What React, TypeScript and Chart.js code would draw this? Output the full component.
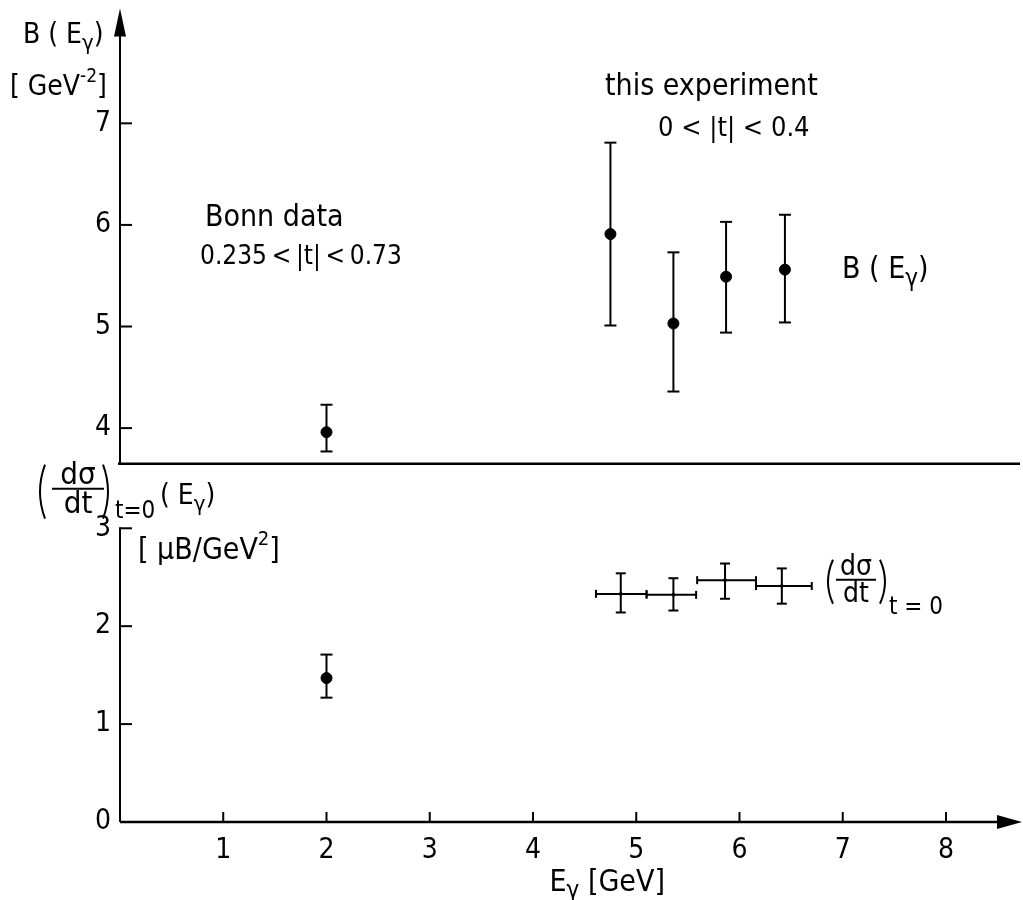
import React, { useEffect, useRef } from 'react';
import { Chart, registerables } from 'chart.js';

Chart.register(...registerables);

const FONT = "'DejaVu Sans Condensed', 'Liberation Sans Narrow', 'DejaVu Sans', sans-serif";

// Tick values
const xTicks = [1, 2, 3, 4, 5, 6, 7, 8];
const topTicks = [4, 5, 6, 7];
const bottomTicks = [0, 1, 2, 3];

// Bonn data (E = 2 GeV)
const bonnE = [2.0];
const bonnB = [3.96];
const bonnBHi = [4.23];
const bonnBLo = [3.77];
const bonnD = [1.47];
const bonnDHi = [1.71];
const bonnDLo = [1.27];

// This experiment: slope B(E)
const expE = [4.75, 5.36, 5.87, 6.44];
const expB = [5.91, 5.03, 5.49, 5.56];
const expBHi = [6.81, 5.73, 6.03, 6.1];
const expBLo = [5.01, 4.36, 4.94, 5.04];

// This experiment: (dσ/dt) at t = 0
const expDE = [4.85, 5.36, 5.86, 6.41];
const expDEMin = [4.61, 5.1, 5.59, 6.16];
const expDEMax = [5.1, 5.58, 6.16, 6.7];
const expD = [2.33, 2.32, 2.47, 2.41];
const expDHi = [2.54, 2.49, 2.64, 2.59];
const expDLo = [2.14, 2.16, 2.28, 2.23];

type Run = { t: string; size: number; dy?: number };

function drawRuns(ctx: CanvasRenderingContext2D, x: number, y: number, runs: Run[]) {
  let cx = x;
  for (const r of runs) {
    ctx.font = `${r.size}px ${FONT}`;
    ctx.fillText(r.t, cx, y + (r.dy ?? 0));
    cx += ctx.measureText(r.t).width;
  }
  return cx;
}

function drawParen(ctx: CanvasRenderingContext2D, x: number, top: number, bottom: number, left: boolean) {
  const mid = (top + bottom) / 2;
  ctx.beginPath();
  if (left) {
    ctx.moveTo(x + 5, top);
    ctx.quadraticCurveTo(x - 5, mid, x + 5, bottom);
  } else {
    ctx.moveTo(x - 5, top);
    ctx.quadraticCurveTo(x + 5, mid, x - 5, bottom);
  }
  ctx.stroke();
}

function drawFraction(ctx: CanvasRenderingContext2D, cx: number, lineY: number, w: number, size: number) {
  ctx.font = `${size}px ${FONT}`;
  ctx.textAlign = 'center';
  ctx.fillText('dσ', cx, lineY - 5);
  ctx.fillText('dt', cx, lineY + size * 0.8);
  ctx.textAlign = 'left';
  ctx.beginPath();
  ctx.moveTo(cx - w / 2, lineY);
  ctx.lineTo(cx + w / 2, lineY);
  ctx.stroke();
}

const figurePlugin = {
  id: 'figure',
  afterDraw(chart: any) {
    const ctx: CanvasRenderingContext2D = chart.ctx;
    const sx = chart.scales.x;
    const yT = chart.scales.yTop;
    const yB = chart.scales.yBot;
    const area = chart.chartArea;
    const W = chart.width;
    ctx.save();
    ctx.strokeStyle = '#000';
    ctx.fillStyle = '#000';
    ctx.lineWidth = 2;
    ctx.lineCap = 'butt';
    const line = (x1: number, y1: number, x2: number, y2: number) => {
      ctx.beginPath();
      ctx.moveTo(x1, y1);
      ctx.lineTo(x2, y2);
      ctx.stroke();
    };
    const X = (v: number) => sx.getPixelForValue(v);
    const YT = (v: number) => yT.getPixelForValue(v);
    const YB = (v: number) => yB.getPixelForValue(v);
    const x0 = X(0);

    // top panel axis with arrow
    const sepY = yT.bottom;
    line(x0, sepY, x0, area.top + 26);
    ctx.beginPath();
    ctx.moveTo(x0, area.top + 2);
    ctx.lineTo(x0 - 6, area.top + 30);
    ctx.lineTo(x0 + 6, area.top + 30);
    ctx.closePath();
    ctx.fill();
    topTicks.forEach((v) => line(x0, YT(v), x0 + 12, YT(v)));
    // separator
    ctx.lineWidth = 2.5;
    line(x0 - 2, sepY, W - 3, sepY);
    ctx.lineWidth = 2;

    // bottom panel axis
    const y0 = YB(0);
    line(x0, YB(3) - 1, x0, y0);
    bottomTicks.forEach((v) => { if (v > 0) line(x0, YB(v), x0 + 12, YB(v)); });
    // x axis with arrow
    ctx.lineWidth = 2.5;
    line(x0, y0, W - 20, y0);
    ctx.lineWidth = 2;
    ctx.beginPath();
    ctx.moveTo(W - 1, y0);
    ctx.lineTo(W - 26, y0 - 7);
    ctx.lineTo(W - 26, y0 + 7);
    ctx.closePath();
    ctx.fill();
    xTicks.forEach((v) => line(X(v), y0, X(v), y0 - 10));

    // error bars
    const vbar = (px: number, hi: number, lo: number, cap: number) => {
      line(px, hi, px, lo);
      line(px - cap, hi, px + cap, hi);
      line(px - cap, lo, px + cap, lo);
    };
    bonnE.forEach((e, i) => vbar(X(e), YT(bonnBHi[i]), YT(bonnBLo[i]), 6));
    expE.forEach((e, i) => vbar(X(e), YT(expBHi[i]), YT(expBLo[i]), 6));
    bonnE.forEach((e, i) => vbar(X(e), YB(bonnDHi[i]), YB(bonnDLo[i]), 6));
    expDE.forEach((e, i) => {
      vbar(X(e), YB(expDHi[i]), YB(expDLo[i]), 5);
      const py = YB(expD[i]);
      line(X(expDEMin[i]), py, X(expDEMax[i]), py);
      line(X(expDEMin[i]), py - 4, X(expDEMin[i]), py + 4);
      line(X(expDEMax[i]), py - 4, X(expDEMax[i]), py + 4);
    });

    // annotations
    ctx.textAlign = 'left';
    ctx.textBaseline = 'alphabetic';
    drawRuns(ctx, X(4.697), YT(7.275), [{ t: 'this experiment', size: 30 }]);
    drawRuns(ctx, X(5.211), YT(6.872), [{ t: '0 < |t| < 0.4', size: 27 }]);
    drawRuns(ctx, X(0.823), YT(5.987), [{ t: 'Bonn data', size: 30 }]);
    drawRuns(ctx, X(0.775), YT(5.614), [{ t: '0.235\u2009<\u2009|t|\u2009<\u20090.73', size: 26 }]);
    drawRuns(ctx, X(6.993), YT(5.476), [
      { t: 'B ( E', size: 30 },
      { t: 'γ', size: 24, dy: 8 },
      { t: ')', size: 30 },
    ]);

    // right (dσ/dt)t=0 label
    {
      const lx = X(6.828);
      const ly = YB(2.474);
      drawParen(ctx, lx + 3, ly - 20, ly + 24, true);
      drawFraction(ctx, lx + 31, ly, 40, 28);
      drawParen(ctx, lx + 60, ly - 20, ly + 24, false);
      drawRuns(ctx, lx + 64, ly + 34, [{ t: 't = 0', size: 24 }]);
    }

    // top-left axis title
    drawRuns(ctx, 23, 43, [
      { t: 'B ( E', size: 28 },
      { t: 'γ', size: 22, dy: 7 },
      { t: ')', size: 28 },
    ]);
    drawRuns(ctx, 10, 95, [
      { t: '[ GeV', size: 28 },
      { t: '-2', size: 19, dy: -13 },
      { t: ']', size: 28 },
    ]);

    // bottom-left axis title
    {
      const lineY = sepY + 25;
      drawParen(ctx, 40, lineY - 24, lineY + 30, true);
      drawFraction(ctx, 78, lineY, 52, 31);
      drawParen(ctx, 108, lineY - 24, lineY + 30, false);
      drawRuns(ctx, 115, lineY + 29, [{ t: 't=0', size: 24 }]);
      drawRuns(ctx, 160, lineY + 15, [
        { t: '( E', size: 28 },
        { t: 'γ', size: 22, dy: 7 },
        { t: ')', size: 28 },
      ]);
      drawRuns(ctx, 138, YB(3) + 31, [
        { t: '[ μB/GeV', size: 30 },
        { t: '2', size: 20, dy: -14 },
        { t: ']', size: 30 },
      ]);
    }

    // x-axis title
    drawRuns(ctx, X(4.16), 891, [
      { t: 'E', size: 30 },
      { t: 'γ', size: 24, dy: 7 },
      { t: ' [GeV]', size: 30 },
    ]);

    ctx.restore();
  },
};

export default function App() {
  const ref = useRef<HTMLCanvasElement | null>(null);

  useEffect(() => {
    document.body.style.margin = '0';
    document.body.style.background = '#fff';
    const canvas = ref.current;
    if (!canvas) return;
    const tickFont = { family: FONT, size: 28 };
    const fitY = (s: any) => {
      s.width = 120;
      s.paddingTop = 0;
      s.paddingBottom = 0;
    };
    const chart = new Chart(canvas, {
      type: 'scatter',
      data: {
        datasets: [
          {
            label: 'Bonn B',
            data: bonnE.map((e, i) => ({ x: e, y: bonnB[i] })),
            yAxisID: 'yTop',
            pointRadius: 5.5,
            backgroundColor: '#000',
            borderColor: '#000',
          },
          {
            label: 'this experiment B',
            data: expE.map((e, i) => ({ x: e, y: expB[i] })),
            yAxisID: 'yTop',
            pointRadius: 5.5,
            backgroundColor: '#000',
            borderColor: '#000',
          },
          {
            label: 'Bonn dσ/dt',
            data: bonnE.map((e, i) => ({ x: e, y: bonnD[i] })),
            yAxisID: 'yBot',
            pointRadius: 5.5,
            backgroundColor: '#000',
            borderColor: '#000',
          },
          {
            label: 'this experiment dσ/dt',
            data: expDE.map((e, i) => ({ x: e, y: expD[i] })),
            yAxisID: 'yBot',
            pointRadius: 1.5,
            backgroundColor: '#000',
            borderColor: '#000',
          },
        ],
      },
      options: {
        animation: false,
        responsive: false,
        devicePixelRatio: 1,
        layout: { padding: { left: 0, right: 13, top: 5, bottom: 0 } },
        plugins: { legend: { display: false }, tooltip: { enabled: false } },
        scales: {
          x: {
            type: 'linear',
            position: 'bottom',
            min: 0,
            max: 8.62,
            grid: { display: false, drawTicks: false },
            border: { display: false },
            ticks: { font: tickFont, color: '#000', padding: 12 },
            afterBuildTicks: (s: any) => { s.ticks = xTicks.map((v) => ({ value: v })); },
            afterFit: (s: any) => { s.height = 78; s.paddingLeft = 0; s.paddingRight = 0; },
          },
          yBot: {
            type: 'linear',
            position: 'left',
            stack: 'panels',
            stackWeight: 3.59,
            min: 0,
            max: 3.66,
            grid: { display: false, drawTicks: false },
            border: { display: false },
            ticks: { font: tickFont, color: '#000', padding: 9 },
            afterBuildTicks: (s: any) => { s.ticks = bottomTicks.map((v) => ({ value: v })); },
            afterFit: fitY,
          },
          yTop: {
            type: 'linear',
            position: 'left',
            stack: 'panels',
            stackWeight: 4.58,
            min: 3.65,
            max: 8.15,
            grid: { display: false, drawTicks: false },
            border: { display: false },
            ticks: { font: tickFont, color: '#000', padding: 9 },
            afterBuildTicks: (s: any) => { s.ticks = topTicks.map((v) => ({ value: v })); },
            afterFit: fitY,
          },
        },
      },
      plugins: [figurePlugin],
    } as any);
    return () => chart.destroy();
  }, []);

  return (
    <div style={{ position: 'absolute', left: 0, top: 0, width: 1023, height: 900, background: '#fff' }}>
      <canvas ref={ref} width={1023} height={900} style={{ width: 1023, height: 900, display: 'block' }} />
    </div>
  );
}
